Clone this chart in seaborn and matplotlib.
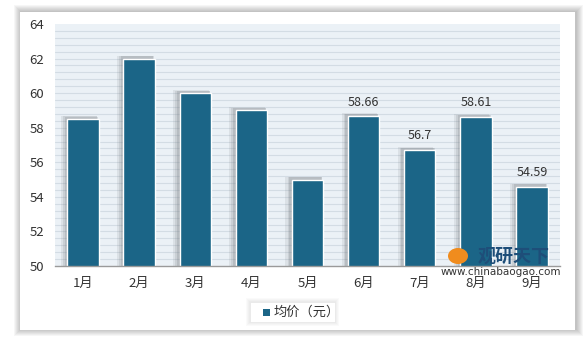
import matplotlib
matplotlib.use("Agg")
import matplotlib.pyplot as plt
import seaborn as sns
import numpy as np
import pandas as pd
from matplotlib.patches import Rectangle

months = ["1月", "2月", "3月", "4月", "5月", "6月", "7月", "8月", "9月"]
prices = [58.5, 62, 60, 59, 55, 58.66, 56.7, 58.61, 54.59]
label_texts = ["", "", "", "", "", "58.66", "56.7", "58.61", "54.59"]
series_name = "均价（元）"

sns.set_theme(style="white")
plt.rcParams['font.family'] = ['Noto Sans CJK SC', 'DejaVu Sans']

df = pd.DataFrame({"月份": months, "均价": prices})

fig = plt.figure(figsize=(5.83, 3.42), dpi=100)
fig.patch.set_facecolor("white")

# soft panel shadow
W, H = 583, 342
for d in range(7, 0, -1):
    fig.patches.append(Rectangle(((20 - d + 1) / W, (12 - d + 1) / H), (555 + 2 * d) / W, (318 + 2 * d - 1) / H,
                                 transform=fig.transFigure, facecolor="black", alpha=0.035,
                                 edgecolor="none", zorder=0))
fig.patches.append(Rectangle((20 / W, 12 / H), 555 / W, 318 / H, transform=fig.transFigure,
                             facecolor="white", edgecolor="none", zorder=0.5))

ax = fig.add_axes([55 / W, 1 - 266 / H, 505 / W, 242 / H])
ax.set_facecolor("#EBF1F6")
ax.set_zorder(1)

ax.set_ylim(50, 64)
ax.set_yticks(np.arange(50, 65, 2))
for y in np.arange(50.4, 64.0, 0.4):
    ax.axhline(y, color="#D3DCE4", lw=0.8, zorder=0)

x = np.arange(len(months))
# soft bar shadows
for k, (dx, a) in enumerate([(0.075, 0.12), (0.05, 0.15), (0.03, 0.2)]):
    ax.bar(x - dx, np.array(prices) - 50 + 0.1 + dx, bottom=50, width=0.56 + dx,
           color="#6E7378", alpha=a, edgecolor="none", zorder=1)

sns.barplot(data=df, x="月份", y="均价", ax=ax, color="#1B6587", saturation=1,
            width=0.56, edgecolor="white", linewidth=1.0, zorder=2)

ax.set_xlim(-0.5, len(months) - 0.5)
for xi, v, t in zip(x, prices, label_texts):
    if t:
        ax.text(xi, v + 0.45, t, ha="center", va="bottom", fontsize=9, color="#333333")

for s in ["top", "right", "left"]:
    ax.spines[s].set_visible(False)
ax.spines["bottom"].set_color("#9A9A9A")
ax.spines["bottom"].set_linewidth(1)
ax.set_xlabel("")
ax.set_ylabel("")
ax.tick_params(axis="y", labelsize=9.5, colors="#333333", pad=8, length=0)
ax.tick_params(axis="x", labelsize=9.5, colors="#333333", pad=8, length=0)
ax.grid(False)

# legend
lx, ly = 250 / W, 1 - 322 / H
for d in range(4, 0, -1):
    fig.patches.append(Rectangle((lx - d / W, ly - d / H), (85 + 2 * d) / W, (20 + 2 * d) / H,
                                 transform=fig.transFigure, facecolor="black", alpha=0.02,
                                 edgecolor="none", zorder=3))
fig.patches.append(Rectangle((lx, ly), 85 / W, 20 / H, transform=fig.transFigure,
                             facecolor="white", edgecolor="#E8E8E8", lw=0.6, zorder=3))
fig.patches.append(Rectangle((263 / W, 1 - 316 / H), 7 / W, 7 / H, transform=fig.transFigure,
                             facecolor="#1B6587", edgecolor="none", zorder=4))
fig.text(274 / W, 1 - 312 / H, series_name, fontsize=9.5, color="#333333", va="center", zorder=4)

# watermark
fig.text(478 / W, 1 - 256 / H, "观研天下", fontsize=13, fontweight="bold", color="#1E4E79",
         va="center", zorder=5)
fig.text(441 / W, 1 - 272 / H, "www.chinabaogao.com", fontsize=7.5, color="#333333",
         va="center", family="DejaVu Sans", zorder=5)
fig.patches.append(matplotlib.patches.Ellipse((458 / W, 1 - 256 / H), 20 / W, 16 / H,
                   transform=fig.transFigure, facecolor="#F08C1E", edgecolor="none", zorder=5))

fig.savefig("out.png", dpi=100)
